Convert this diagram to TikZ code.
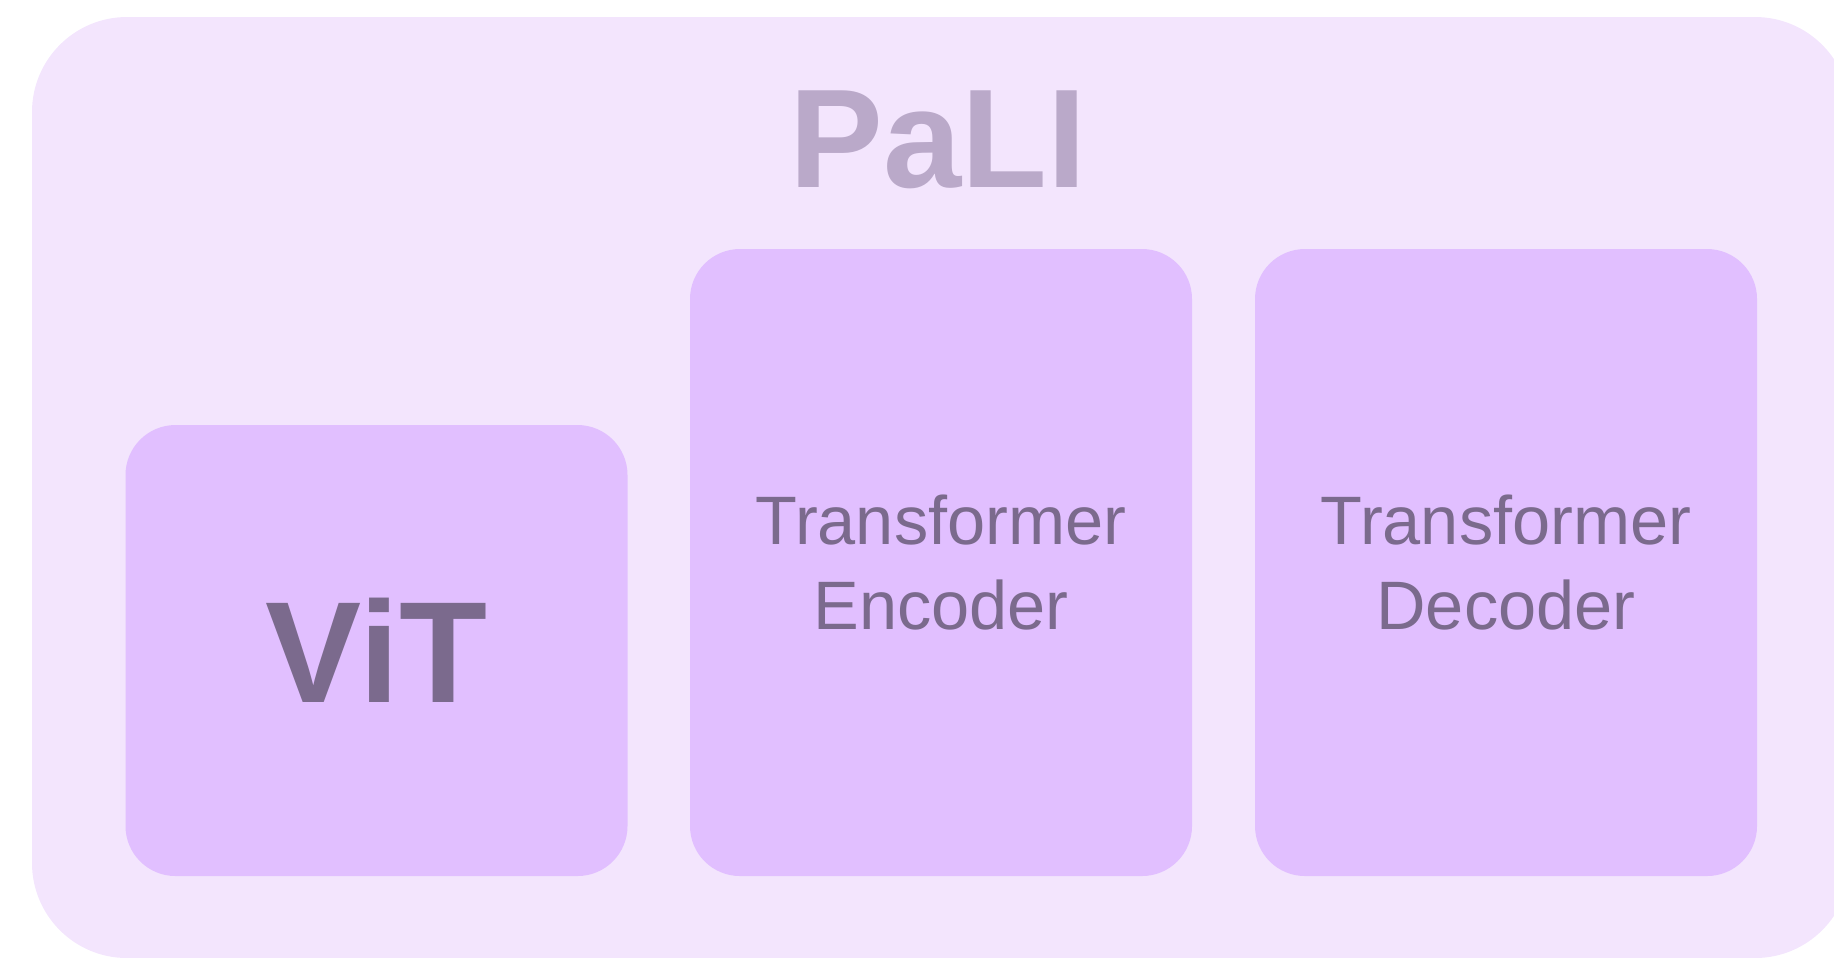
\documentclass[tikz,border=0pt]{standalone}
\usepackage{fontspec}
\setmainfont{Liberation Sans}
\definecolor{shell}{RGB}{243,229,253}
\definecolor{blockfill}{RGB}{225,191,255}
\definecolor{ink}{RGB}{123,106,141}
\definecolor{titleink}{RGB}{186,169,201}
\tikzset{
  shellbox/.style={fill=shell,draw=none,rounded corners=0.95cm},
  block/.style={fill=blockfill,draw=none,rounded corners=0.5cm,minimum width=5.02cm,
    align=center,text=ink,inner sep=0pt},
  small/.style={font=\fontsize{19.5}{24.2}\selectfont},
  big/.style={font=\bfseries\fontsize{41}{46}\selectfont}
}

\begin{document}
\begin{tikzpicture}
  \useasboundingbox (0,0) rectangle (18.34,-9.57);
  \clip (0,0) rectangle (18.34,-9.57);

  \coordinate (vitc) at (3.765,-6.505);
  \coordinate (encc) at (9.41,-5.625);
  \coordinate (decc) at (15.06,-5.625);

  \draw[shellbox] (0.32,-0.17) rectangle (18.50,-9.58);
  \node[text=titleink,font=\bfseries\fontsize{40}{46}\selectfont,anchor=base] (pali) at (9.38,-1.87) {PaLI};

  \node[block,big,minimum height=4.51cm] (vit) at (vitc) {ViT};
  \node[block,small,minimum height=6.27cm] (enc) at (encc) {Transformer\\Encoder};
  \node[block,small,minimum height=6.27cm] (dec) at (decc) {Transformer\\Decoder};
\end{tikzpicture}
\end{document}
